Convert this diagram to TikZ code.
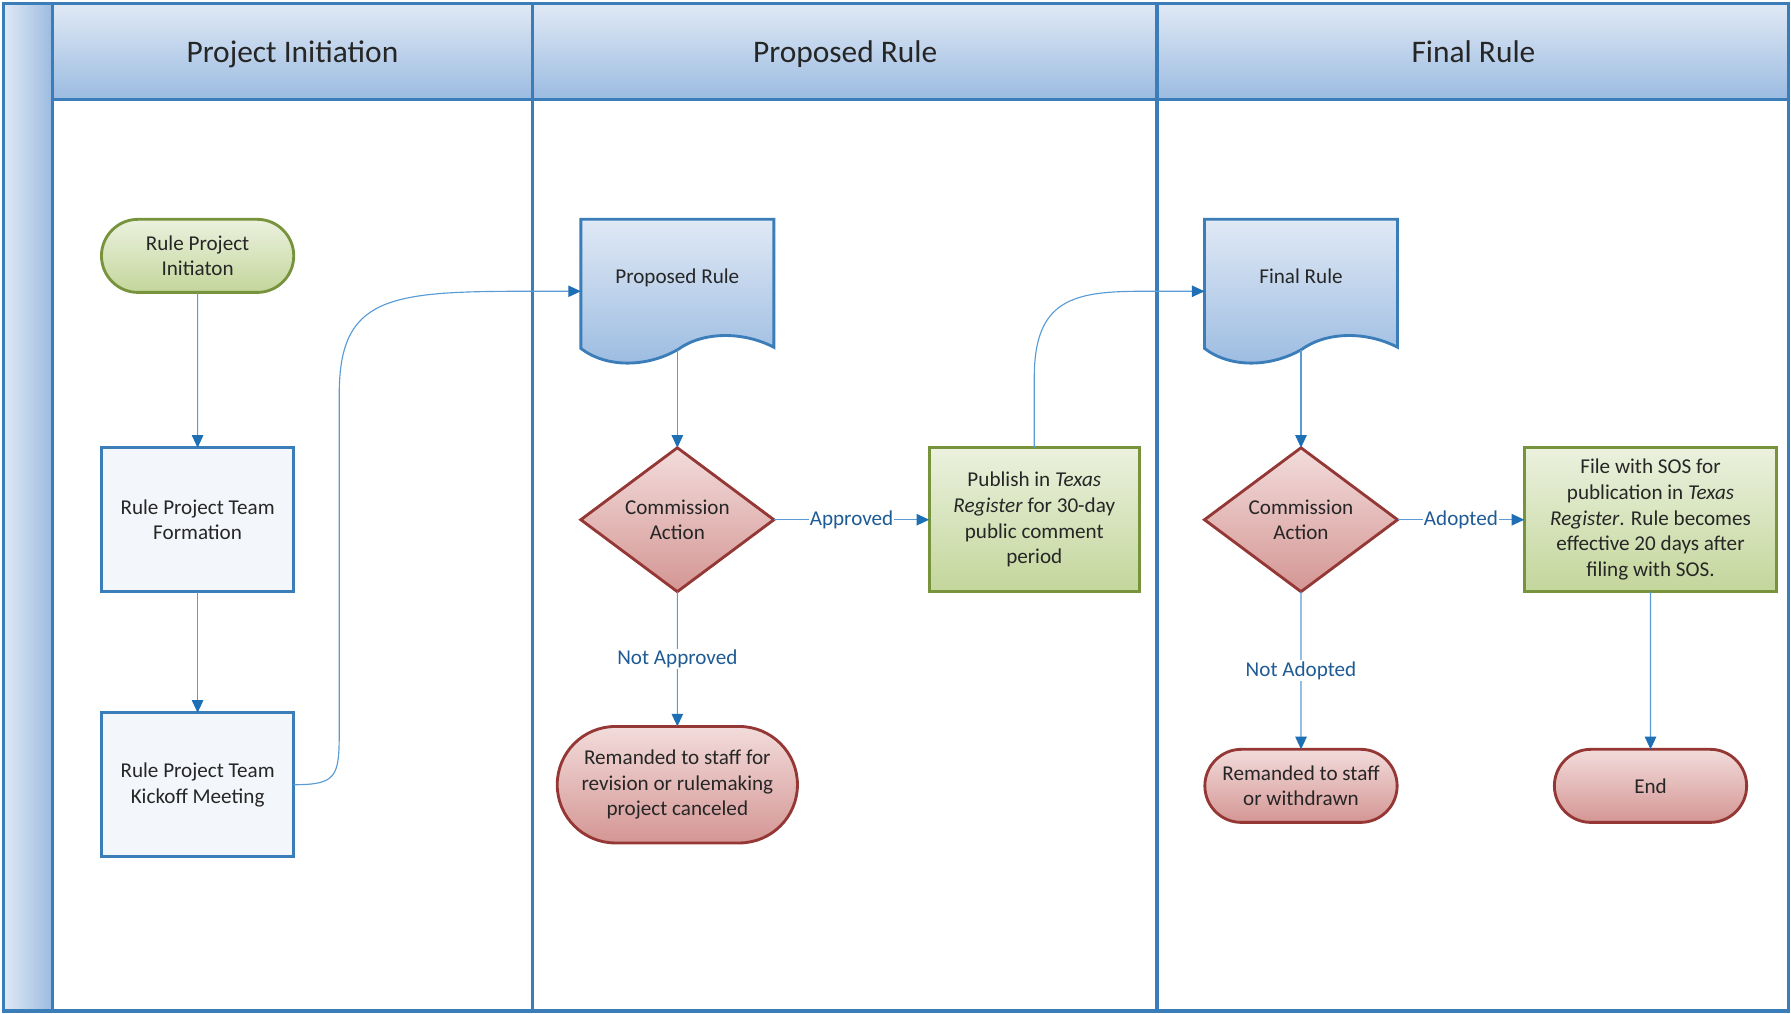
\documentclass[tikz,border=0pt]{standalone}
\usepackage{fontspec}
\setmainfont{Carlito}
\usepackage{tikz}
\usetikzlibrary{positioning}
\usetikzlibrary{shapes.geometric}
\usetikzlibrary{shapes.misc}
\usetikzlibrary{arrows.meta}
\usetikzlibrary{backgrounds}
\definecolor{Lane}{HTML}{3B7DB8}
\definecolor{HeadTop}{HTML}{E0E9F5}
\definecolor{HeadBot}{HTML}{9BBBE1}
\definecolor{GreenLine}{HTML}{77933C}
\definecolor{GreenTop}{HTML}{EBF1DE}
\definecolor{GreenBot}{HTML}{C3D69B}
\definecolor{RedLine}{HTML}{953735}
\definecolor{RedTop}{HTML}{F2DCDB}
\definecolor{RedBot}{HTML}{D49694}
\definecolor{BoxFill}{HTML}{F3F6FA}
\definecolor{Flow}{HTML}{5B9BD5}
\definecolor{FlowTip}{HTML}{1F6FB5}
\definecolor{LabelText}{HTML}{1F5B94}
\definecolor{Ink}{HTML}{262626}

\tikzset{
  every node/.style={font=\fontsize{18.5}{22.5}\selectfont, text=Ink, align=center, outer sep=0pt},
  header/.style={font=\fontsize{27.5}{33}\selectfont, text height=19pt, text depth=6pt},
  lane/.style={draw=Lane, line width=3pt},
  start/.style={rounded rectangle, draw=GreenLine, line width=2.5pt, top color=GreenTop, bottom color=GreenBot, minimum width=175pt, minimum height=64pt},
  stop/.style={rounded rectangle, draw=RedLine, line width=2.5pt, top color=RedTop, bottom color=RedBot, minimum width=175pt, minimum height=64pt},
  task/.style={rectangle, draw=Lane, line width=2.5pt, fill=BoxFill, minimum width=168pt, minimum height=126pt},
  greenbox/.style={rectangle, draw=GreenLine, line width=2.5pt, top color=GreenTop, bottom color=GreenBot, minimum height=126pt},
  decision/.style={diamond, aspect=1.34, draw=RedLine, line width=2.5pt, top color=RedTop, bottom color=RedBot, minimum width=169pt, minimum height=126pt, inner sep=0pt},
  doc/.style={rectangle, minimum width=169pt, minimum height=126pt, text height=13pt, text depth=27pt},
  docshape/.style={draw=Lane, line width=2.5pt, top color=HeadTop, bottom color=HeadBot},
  flow/.style={draw=Flow, line width=1pt, -{Triangle[length=11pt, width=10pt, color=FlowTip]}},
  lbl/.style={fill=white, text=LabelText, inner sep=1pt}
}

\begin{document}
\begin{tikzpicture}[x=1pt, y=1pt]
        \useasboundingbox (0,0) rectangle (1568,-887);

        % swimlanes
        \shade[left color=HeadTop, right color=HeadBot] (3,-3) rectangle (46,-885);
        \shade[top color=HeadTop, bottom color=HeadBot] (46,-3) rectangle (1566,-87);
        \draw[lane] (3,-3) rectangle (1566,-885);
        \draw[lane] (46,-3) -- (46,-885);
        \draw[lane] (46,-87) -- (1566,-87);
        \draw[lane] (466,-3) -- (466,-885);
        \draw[lane] (1013,-3) -- (1013,-885);
        \foreach \x/\t [count=\i] in {256/Project Initiation, 740/Proposed Rule, 1290/Final Rule}
          \node[header] (head\i) at (\x,-48) {\t};

        % project initiation
        \node[start] (init) at (173,-224) {Rule Project\\Initiaton};
        \node[task, below=136pt of init] (form) {Rule Project Team\\Formation};
        \node[task, below=106pt of form] (kick) {Rule Project Team\\Kickoff Meeting};

        % proposed rule
        \node[doc] (prop) at (593,-255) {Proposed Rule};
        \node[decision, below=74pt of prop] (act1) {Commission\\Action};
        \node[greenbox, minimum width=184pt, right=136pt of act1] (pub) {Publish in \textit{Texas}\\\textit{Register} for 30-day\\public comment\\period};
        \node[stop, minimum width=217pt, minimum height=102pt, below=118pt of act1] (back1) {Remanded to staff for\\revision or rulemaking\\project canceled};

        % final rule
        \node[doc] (final) at (1139,-255) {Final Rule};
        \node[decision, below=74pt of final] (act2) {Commission\\Action};
        \node[greenbox, minimum width=221pt, right=111pt of act2] (sos) {File with SOS for\\publication in \textit{Texas}\\\textit{Register}. Rule becomes\\effective 20 days after\\filing with SOS.};
        \node[stop, below=138pt of act2] (back2) {Remanded to staff\\or withdrawn};
        \node[stop, below=138pt of sos] (done) {End};

        % document shapes
        \begin{scope}[on background layer]
          \foreach \d in {prop, final}
            \shade[docshape] ([yshift=13pt]\d.south west) .. controls +(22,-17) and +(-28,-16) .. ([xshift=85pt, yshift=12pt]\d.south west)
              .. controls +(22,16) and +(-27,14) .. ([yshift=14pt]\d.south east) -- (\d.north east) -- (\d.north west) -- cycle;
        \end{scope}

        % edges
        \draw[flow] (init) -- (form);
        \draw[flow] (form) -- (kick);
        \draw[flow] (kick.east) .. controls +(38,0) and +(0,-40) .. (297,-640) -- (297,-345)
          .. controls +(0,85) and +(-120,0) .. (460,-255) -- (prop.west);
        \draw[flow] ([yshift=12pt]prop.south) -- (act1);
        \draw[flow] (act1) -- node[lbl] {Approved} (pub);
        \draw[flow] (act1) -- node[lbl] {Not Approved} (back1);
        \draw[flow] (pub.north) -- ++(0,62) .. controls +(0,68) and +(-60,0) .. (1000,-255) -- (final.west);
        \draw[flow] ([yshift=12pt]final.south) -- (act2);
        \draw[flow] (act2) -- node[lbl] {Adopted} (sos);
        \draw[flow] (act2) -- node[lbl] {Not Adopted} (back2);
        \draw[flow] (sos) -- (done);
\end{tikzpicture}
\end{document}
